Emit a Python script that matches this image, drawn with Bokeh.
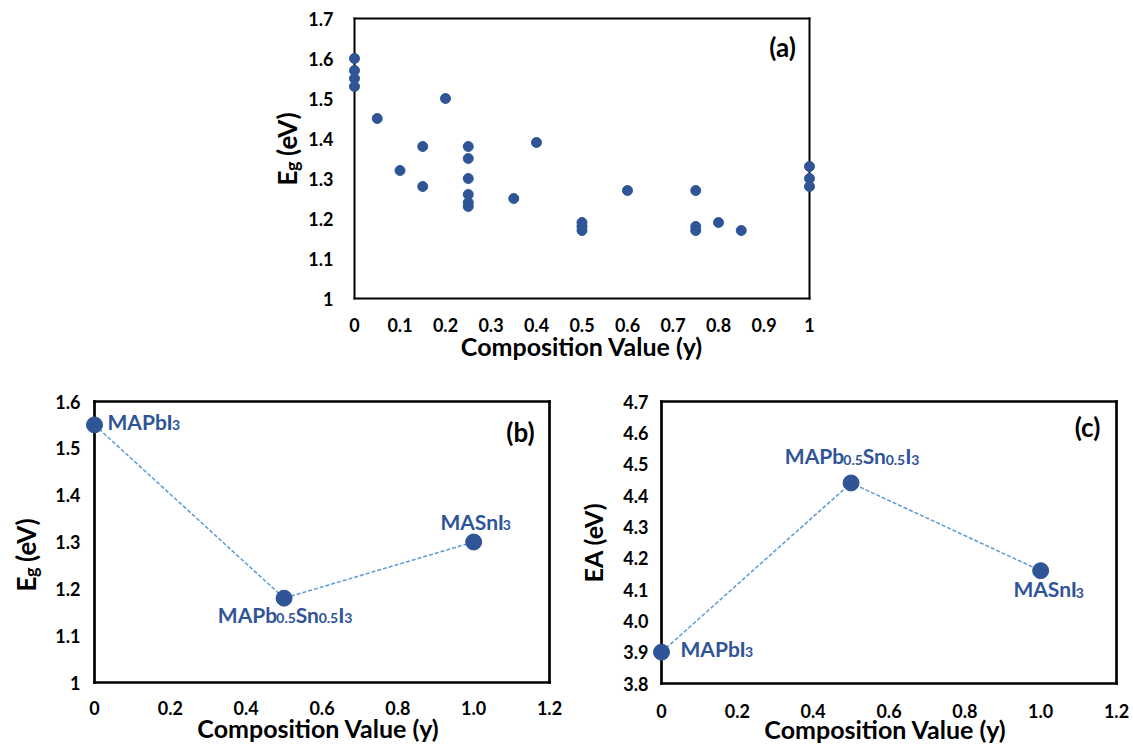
import math
import re
from bokeh.plotting import figure
from bokeh.layouts import column, row
from bokeh.models import FixedTicker, CustomJSTickFormatter, Label, Range1d
from bokeh.embed import file_html
from bokeh.resources import INLINE

# ---------------- data ----------------
# (a) band gap vs composition (literature scatter)
A_X = [0, 0, 0, 0, 0.05, 0.1, 0.15, 0.15, 0.2,
       0.25, 0.25, 0.25, 0.25, 0.25, 0.25, 0.35, 0.4,
       0.5, 0.5, 0.5, 0.6, 0.75, 0.75, 0.75, 0.8, 0.85, 1, 1, 1]
A_Y = [1.60, 1.57, 1.55, 1.53, 1.45, 1.32, 1.38, 1.28, 1.50,
       1.38, 1.35, 1.30, 1.26, 1.24, 1.23, 1.25, 1.39,
       1.19, 1.18, 1.17, 1.27, 1.27, 1.18, 1.17, 1.19, 1.17, 1.33, 1.30, 1.28]
A_X_TICKS = [0, 0.1, 0.2, 0.3, 0.4, 0.5, 0.6, 0.7, 0.8, 0.9, 1.0]
A_X_LABELS = ["0", "0.1", "0.2", "0.3", "0.4", "0.5", "0.6", "0.7", "0.8", "0.9", "1"]
A_Y_TICKS = [1.0, 1.1, 1.2, 1.3, 1.4, 1.5, 1.6, 1.7]
A_Y_LABELS = ["1", "1.1", "1.2", "1.3", "1.4", "1.5", "1.6", "1.7"]

# (b) band gap, (c) electron affinity
BC_X = [0, 0.5, 1.0]
B_Y = [1.55, 1.18, 1.30]
C_Y = [3.90, 4.44, 4.16]
NAMES = ["MAPbI_{3}", "MAPb_{0.5}Sn_{0.5}I_{3}", "MASnI_{3}"]
BC_X_TICKS = [0, 0.2, 0.4, 0.6, 0.8, 1.0, 1.2]
BC_X_LABELS = ["0", "0.2", "0.4", "0.6", "0.8", "1.0", "1.2"]
B_Y_TICKS = [1.0, 1.1, 1.2, 1.3, 1.4, 1.5, 1.6]
B_Y_LABELS = ["1", "1.1", "1.2", "1.3", "1.4", "1.5", "1.6"]
C_Y_TICKS = [3.8, 3.9, 4.0, 4.1, 4.2, 4.3, 4.4, 4.5, 4.6, 4.7]
C_Y_LABELS = ["3.8", "3.9", "4.0", "4.1", "4.2", "4.3", "4.4", "4.5", "4.6", "4.7"]

X_TITLE = "Composition Value (y)"
EG_TITLE = "E_{g} (eV)"
EA_TITLE = "EA (eV)"
PANEL_TAGS = ["(a)", "(b)", "(c)"]

# ---------------- style ----------------
FONT = "Lato"
MARK = "#2F5597"
DASH = "#5B9BD5"
TXT_BLUE = "#2F5597"
TITLE_SIZE = 25
TICK_SIZE = "18px"
BASE_FIX = 8   # empirical correction of the alphabetic baseline of Label text

# approximate advance widths (em) for Lato Bold, used to lay out rich text pieces
W = {'M': 0.90, 'A': 0.69, 'P': 0.62, 'b': 0.575, 'I': 0.29, 'S': 0.52, 'n': 0.57,
     '0': 0.58, '3': 0.58, '5': 0.58, '.': 0.23, 'E': 0.56, 'g': 0.515, ' ': 0.22,
     '(': 0.33, ')': 0.33, 'e': 0.53, 'V': 0.69}


def tw(s, size):
    return sum(W.get(c, 0.56) for c in s) * size


def parse(s):
    out = []
    for m in re.finditer(r"_\{([^}]*)\}|([^_]+)", s):
        if m.group(1) is not None:
            out.append((m.group(1), True))
        else:
            out.append((m.group(2), False))
    return out


def fmt(ticks, labels):
    return CustomJSTickFormatter(args=dict(tv=ticks, tl=labels), code="""
        let best = 0;
        for (let i = 1; i < tv.length; i++) {
            if (Math.abs(tv[i] - tick) < Math.abs(tv[best] - tick)) best = i;
        }
        return tl[best];
    """)


def blank_fig(w, h):
    f = figure(frame_width=w, frame_height=h, x_range=Range1d(0, w), y_range=Range1d(0, h),
               min_border=0, min_border_left=0, min_border_right=0, min_border_top=0,
               min_border_bottom=0, x_axis_type=None, y_axis_type=None,
               output_backend="svg", toolbar_location=None)
    f.outline_line_color = None
    f.grid.visible = False
    f.background_fill_color = "white"
    f.border_fill_color = "white"
    return f


def make_fig(box_w, box_h, pads, xr, yr, borders, xt, xl, yt, yl, lw):
    pl, pr, pt, pb_ = pads
    x0, x1 = xr
    y0, y1 = yr
    sx = (x1 - x0) / box_w
    sy = (y1 - y0) / box_h
    bl, br, bt, bb = borders
    p = figure(frame_width=box_w + pl + pr, frame_height=box_h + pt + pb_,
               x_range=Range1d(x0 - pl * sx, x1 + pr * sx),
               y_range=Range1d(y0 - pb_ * sy, y1 + pt * sy),
               min_border_left=bl, min_border_right=br, min_border_top=bt, min_border_bottom=bb,
               output_backend="svg", toolbar_location=None)
    p.outline_line_color = None
    p.grid.visible = False
    p.background_fill_color = "white"
    p.border_fill_color = "white"
    # plot-area box: four thin filled bars (markers can sit on its edge)
    hx = lw / 2 * sx
    hy = lw / 2 * sy
    p.quad(left=[x0 - hx, x1 - hx, x0 - hx, x0 - hx],
           right=[x0 + hx, x1 + hx, x1 + hx, x1 + hx],
           bottom=[y0 - hy, y0 - hy, y0 - hy, y1 - hy],
           top=[y1 + hy, y1 + hy, y0 + hy, y1 + hy],
           fill_color="#000000", fill_alpha=1.0, line_color=None)
    for ax in (p.xaxis[0], p.yaxis[0]):
        ax.axis_line_color = None
        ax.major_tick_line_color = None
        ax.minor_tick_line_color = None
        ax.major_tick_out = 0
        ax.major_tick_in = 0
        ax.minor_tick_out = 0
        ax.minor_tick_in = 0
        ax.major_label_text_font = FONT
        ax.major_label_text_font_style = "bold"
        ax.major_label_text_font_size = TICK_SIZE
        ax.major_label_text_color = "black"
        ax.axis_label_text_font = FONT
        ax.axis_label_text_font_style = "bold"
        ax.axis_label_text_font_size = f"{TITLE_SIZE}px"
        ax.axis_label_text_color = "black"
    p.xaxis[0].ticker = FixedTicker(ticks=xt, minor_ticks=[])
    p.xaxis[0].formatter = fmt(xt, xl)
    p.yaxis[0].ticker = FixedTicker(ticks=yt, minor_ticks=[])
    p.yaxis[0].formatter = fmt(yt, yl)
    p.xaxis[0].axis_label = X_TITLE
    return p


def y_title_eg(f, bx, by, size=26, sub=18):
    # rotated "E_g (eV)" built from pieces; (bx, by) = baseline start in the blank figure
    off = 0
    for t, s in parse(EG_TITLE):
        fs = sub if s else size
        lead = len(t) - len(t.lstrip(" "))
        off += tw(" " * lead, fs)
        t = t.lstrip(" ")
        f.add_layout(Label(x=bx - BASE_FIX + (5 if s else 0), y=by + off,
                           x_units="screen", y_units="screen",
                           angle=math.pi / 2, text=t, text_align="left", text_baseline="alphabetic",
                           text_font=FONT, text_font_style="bold", text_font_size=f"{fs}px",
                           text_color="black"))
        off += tw(t, fs)


def rich_label(p, x, y, name, align, dx, dy, main=21, sub=14, drop=4):
    pieces = parse(name)
    widths = [tw(t, sub if s else main) for t, s in pieces]
    total = sum(widths)
    off = dx - (total / 2 if align == "center" else 0)
    for (t, s), w in zip(pieces, widths):
        p.add_layout(Label(x=x, y=y, x_offset=off, y_offset=dy + BASE_FIX - (drop if s else 0),
                           text=t, text_align="left", text_baseline="alphabetic",
                           text_font=FONT, text_font_style="bold",
                           text_font_size=f"{sub if s else main}px", text_color=TXT_BLUE))
        off += w


def tag(p, t, rx, ry):
    p.add_layout(Label(x=rx, y=ry, x_units="screen", y_units="screen", text=t,
                       text_align="center", text_baseline="middle", text_font=FONT,
                       text_font_style="bold", text_font_size="26px", text_color="black"))


# ---------------- panel (a) ----------------
la = blank_fig(305, 370)
y_title_eg(la, 294, 200)
pa = make_fig(455, 280, (8, 8, 3, 3), (0, 1), (1.0, 1.7), (41, 316, 15, 69),
              A_X_TICKS, A_X_LABELS, A_Y_TICKS, A_Y_LABELS, 2)
pa.yaxis[0].major_label_standoff = 13
pa.xaxis[0].major_label_standoff = 16
pa.xaxis[0].axis_label_standoff = -4
pa.scatter(A_X, A_Y, size=10, color=MARK)
tag(pa, PANEL_TAGS[0], 436, 255)

# ---------------- panel (b) ----------------
lb = blank_fig(50, 379)
y_title_eg(lb, 33, 186)
pb = make_fig(455, 281, (10, 3, 3, 3), (0, 1.2), (1.0, 1.6), (34, 20, 28, 64),
              BC_X_TICKS, BC_X_LABELS, B_Y_TICKS, B_Y_LABELS, 2.7)
pb.yaxis[0].major_label_standoff = 4
pb.xaxis[0].major_label_standoff = 15
pb.xaxis[0].axis_label_standoff = -5
pb.line(BC_X, B_Y, line_color=DASH, line_width=1.5, line_dash="4 2")
pb.scatter(BC_X, B_Y, size=16, color=MARK)
tag(pb, PANEL_TAGS[1], 436, 254)
b_pos = [("left", 13, -4.5), ("center", 1, -24), ("center", 2, 13)]
for xv, yv, nm, (al, dx, dy) in zip(BC_X, B_Y, NAMES, b_pos):
    rich_label(pb, xv, yv, nm, al, dx, dy)

# ---------------- panel (c) ----------------
pc = make_fig(455, 282, (10, 3, 3, 3), (0, 1.2), (3.8, 4.7), (79, 14, 27, 64),
              BC_X_TICKS, BC_X_LABELS, C_Y_TICKS, C_Y_LABELS, 2.7)
pc.yaxis[0].major_label_standoff = 3
pc.yaxis[0].axis_label = EA_TITLE
pc.yaxis[0].axis_label_standoff = 12
pc.xaxis[0].major_label_standoff = 17
pc.xaxis[0].axis_label_standoff = -7
pc.line(BC_X, C_Y, line_color=DASH, line_width=1.5, line_dash="4 2")
pc.scatter(BC_X, C_Y, size=16, color=MARK)
tag(pc, PANEL_TAGS[2], 436, 260)
c_pos = [("left", 19, -4), ("center", 1, 19), ("center", 8, -26)]
for xv, yv, nm, (al, dx, dy) in zip(BC_X, C_Y, NAMES, c_pos):
    rich_label(pc, xv, yv, nm, al, dx, dy)

layout = column(row(la, pa), row(lb, pb, pc))
open("out.html", "w").write(file_html(layout, INLINE))
